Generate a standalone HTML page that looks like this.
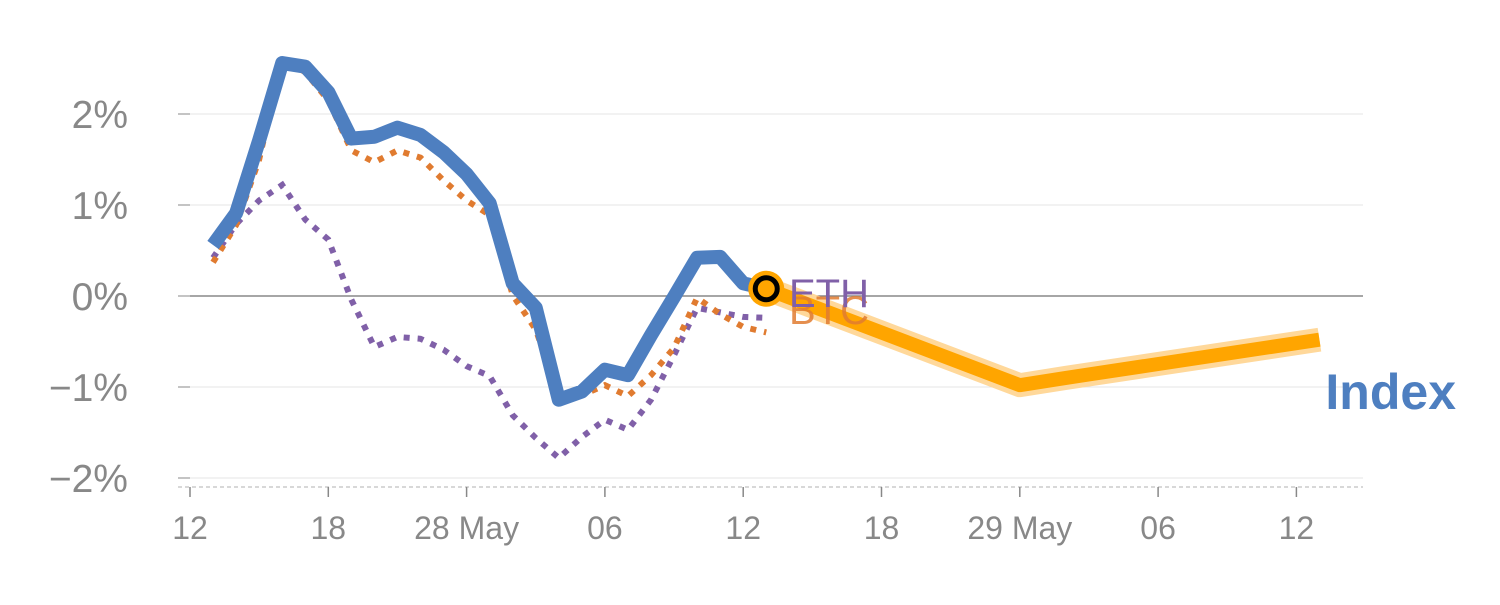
<!DOCTYPE html>
<html><head><meta charset="utf-8"><style>
body{margin:0;background:#fff;width:1500px;height:600px;overflow:hidden;font-family:"Liberation Sans",sans-serif}
</style></head><body>
<svg id="c" width="1500" height="600"></svg>
<script>
const tickLabels=["12","18","28 May","06","12","18","29 May","06","12"];
const tickIdx=[0,6,12,18,24,30,36,42,48];
const yTicks=[2,1,0,-1,-2];
const indexVals=[0.56,0.91,1.71,2.56,2.52,2.24,1.73,1.75,1.85,1.77,1.58,1.34,1.02,0.14,-0.13,-1.14,-1.05,-0.81,-0.87,-0.43,-0.01,0.42,0.43,0.14,0.08];
const btcVals=[0.37,0.78,1.5,2.6,2.46,2.15,1.6,1.47,1.6,1.52,1.27,1.05,0.89,0.01,-0.37,-1.09,-1.09,-0.98,-1.1,-0.87,-0.57,-0.02,-0.2,-0.34,-0.4];
const ethVals=[0.42,0.79,1.05,1.22,0.84,0.62,-0.04,-0.56,-0.45,-0.47,-0.59,-0.77,-0.88,-1.31,-1.56,-1.78,-1.55,-1.36,-1.47,-1.14,-0.65,-0.13,-0.18,-0.23,-0.24];
const fcIdx=[25,36,38,49];
const fcVals=[0.08,-0.98,-0.9,-0.48];
const X=i=>190+23.05*i, Y=v=>296-91*v;
const svg=document.getElementById('c'),NS='http://www.w3.org/2000/svg';
function mk(t,a,p){const e=document.createElementNS(NS,t);for(const k in a)e.setAttribute(k,a[k]);(p||svg).appendChild(e);return e;}
yTicks.forEach(v=>{
 const g=mk('line',{x1:190,x2:1363,y1:Y(v),y2:Y(v),stroke:v===0?'#888':'#e4e4e4','stroke-width':v===0?1.5:1});
 
 
 const tk=mk('line',{x1:178,x2:190,y1:Y(v),y2:Y(v),stroke:'#888','stroke-width':1});
 
 
 const t=mk('text',{x:128,y:Y(v)+14,'text-anchor':'end','font-size':39,fill:'#888'});
 t.textContent=(v<0?'\u2212'+(-v):v)+'%';
 
 
});
const ax=mk('line',{x1:178,x2:1363,y1:487,y2:487,stroke:'#ccc','stroke-width':1.5,'stroke-dasharray':'4 3'});


tickIdx.forEach((i,k)=>{
 const l=mk('line',{x1:X(i),x2:X(i),y1:487,y2:497,stroke:'#888','stroke-width':1.5});
 
 
 const t=mk('text',{x:X(i),y:539,'text-anchor':'middle','font-size':32,fill:'#888'});
 t.textContent=tickLabels[k];
 
 
});
const pts=(vals,idx)=>vals.map((v,k)=>X(idx?idx[k]:k+1)+','+Y(v)).join(' ');
const fc1=mk('polyline',{points:pts(fcVals,fcIdx),fill:'none',stroke:'#ffd89a','stroke-width':24,'stroke-linejoin':'round'});


const fc2=mk('polyline',{points:pts(fcVals,fcIdx),fill:'none',stroke:'#ffa500','stroke-width':14,'stroke-linejoin':'round'});


const eth=mk('polyline',{points:pts(ethVals),fill:'none',stroke:'#8060a8','stroke-width':6,'stroke-dasharray':'6 8'});


const btc=mk('polyline',{points:pts(btcVals),fill:'none',stroke:'#e07b30','stroke-width':6,'stroke-dasharray':'6 8'});


const idx=mk('polyline',{points:pts(indexVals),fill:'none',stroke:'#4e7fc0','stroke-width':14,'stroke-linejoin':'round'});


const last=indexVals.length;
const m1=mk('circle',{cx:X(last),cy:Y(indexVals[last-1]),r:18,fill:'#ffa500'});


const m2=mk('circle',{cx:X(last),cy:Y(indexVals[last-1]),r:11,fill:'none',stroke:'#000','stroke-width':5});


const lb=mk('text',{x:789,y:324,'font-size':40,fill:'#e07b30','fill-opacity':0.85});lb.textContent='BTC';


const le=mk('text',{x:789,y:307,'font-size':40,fill:'#8060a8'});le.textContent='ETH';


const li=mk('text',{x:1456,y:409,'text-anchor':'end','font-size':50,'font-weight':'bold',fill:'#4e7fc0'});li.textContent='Index';


</script>
</body></html>
